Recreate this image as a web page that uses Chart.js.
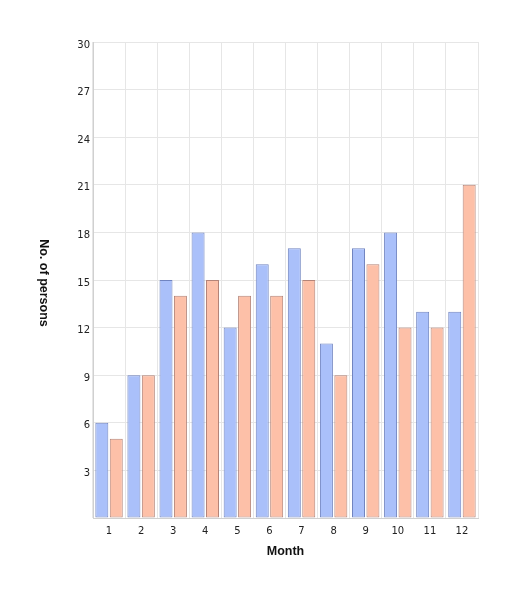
<!DOCTYPE html>
<html><head><meta charset="utf-8">
<script src="https://cdn.jsdelivr.net/npm/chart.js@4.4.0/dist/chart.umd.min.js"></script>
<style>html,body{margin:0;padding:0;background:#fff}#wrap{width:518px;height:594px}</style>
</head><body><div id="wrap"><canvas id="c" width="518" height="594"></canvas></div>
<script>
const categories = ['1','2','3','4','5','6','7','8','9','10','11','12'];
const seriesA = [6, 9, 15, 18, 12, 16, 17, 11, 17, 18, 13, 13];
const seriesB = [5, 9, 14, 15, 14, 14, 15, 9, 16, 12, 12, 21];
const yTicks = [3, 6, 9, 12, 15, 18, 21, 24, 27, 30];
const xTitle = 'Month';
const yTitle = 'No. of persons';

const titlePlugin = {
  id: 'titles',
  afterDraw(chart) {
    const ctx = chart.ctx, a = chart.chartArea;
    ctx.save();
    ctx.fillStyle = '#111';
    ctx.font = 'bold 12.5px "Liberation Sans", Arial, sans-serif';
    ctx.textAlign = 'center';
    ctx.textBaseline = 'middle';
    ctx.fillText(xTitle, (a.left + a.right) / 2, a.bottom + 34);
    ctx.translate(43, (a.top + a.bottom) / 2 + 3);
    ctx.rotate(Math.PI / 2);
    ctx.fillText(yTitle, 0, 0);
    ctx.restore();
  }
};

new Chart(document.getElementById('c'), {
  type: 'bar',
  data: {
    labels: categories,
    datasets: [
      { data: seriesA, backgroundColor: 'rgb(170,192,250)', borderColor: 'rgb(112,132,192)', borderWidth: 1, borderSkipped: false, categoryPercentage: 0.9, barPercentage: 0.9 },
      { data: seriesB, backgroundColor: 'rgb(253,192,168)', borderColor: 'rgb(180,132,120)', borderWidth: 1, borderSkipped: false, categoryPercentage: 0.9, barPercentage: 0.9 }
    ]
  },
  options: {
    responsive: false,
    animation: false,
    layout: { padding: { left: 0, right: 40, top: 42, bottom: 0 } },
    plugins: { legend: { display: false }, tooltip: { enabled: false } },
    scales: {
      x: {
        grid: { color: '#e6e6e6', drawTicks: false, offset: true },
        border: { color: '#d0d0d0' },
        ticks: { color: '#222', padding: 7, font: { family: '"DejaVu Sans", sans-serif', size: 10 } },
        afterFit: s => { s.height = 76; }
      },
      y: {
        min: 0, max: 30,
        afterBuildTicks: s => { s.ticks = [0].concat(yTicks).map(v => ({ value: v })); },
        grid: { color: '#e6e6e6', drawTicks: false },
        border: { color: '#d0d0d0' },
        ticks: { color: '#222', padding: 3, labelOffset: 3, font: { family: '"DejaVu Sans", sans-serif', size: 10 },
                 callback: v => v === 0 ? '' : String(v) },
        afterFit: s => { s.width = 93; }
      }
    }
  },
  plugins: [titlePlugin]
});
</script></body></html>
